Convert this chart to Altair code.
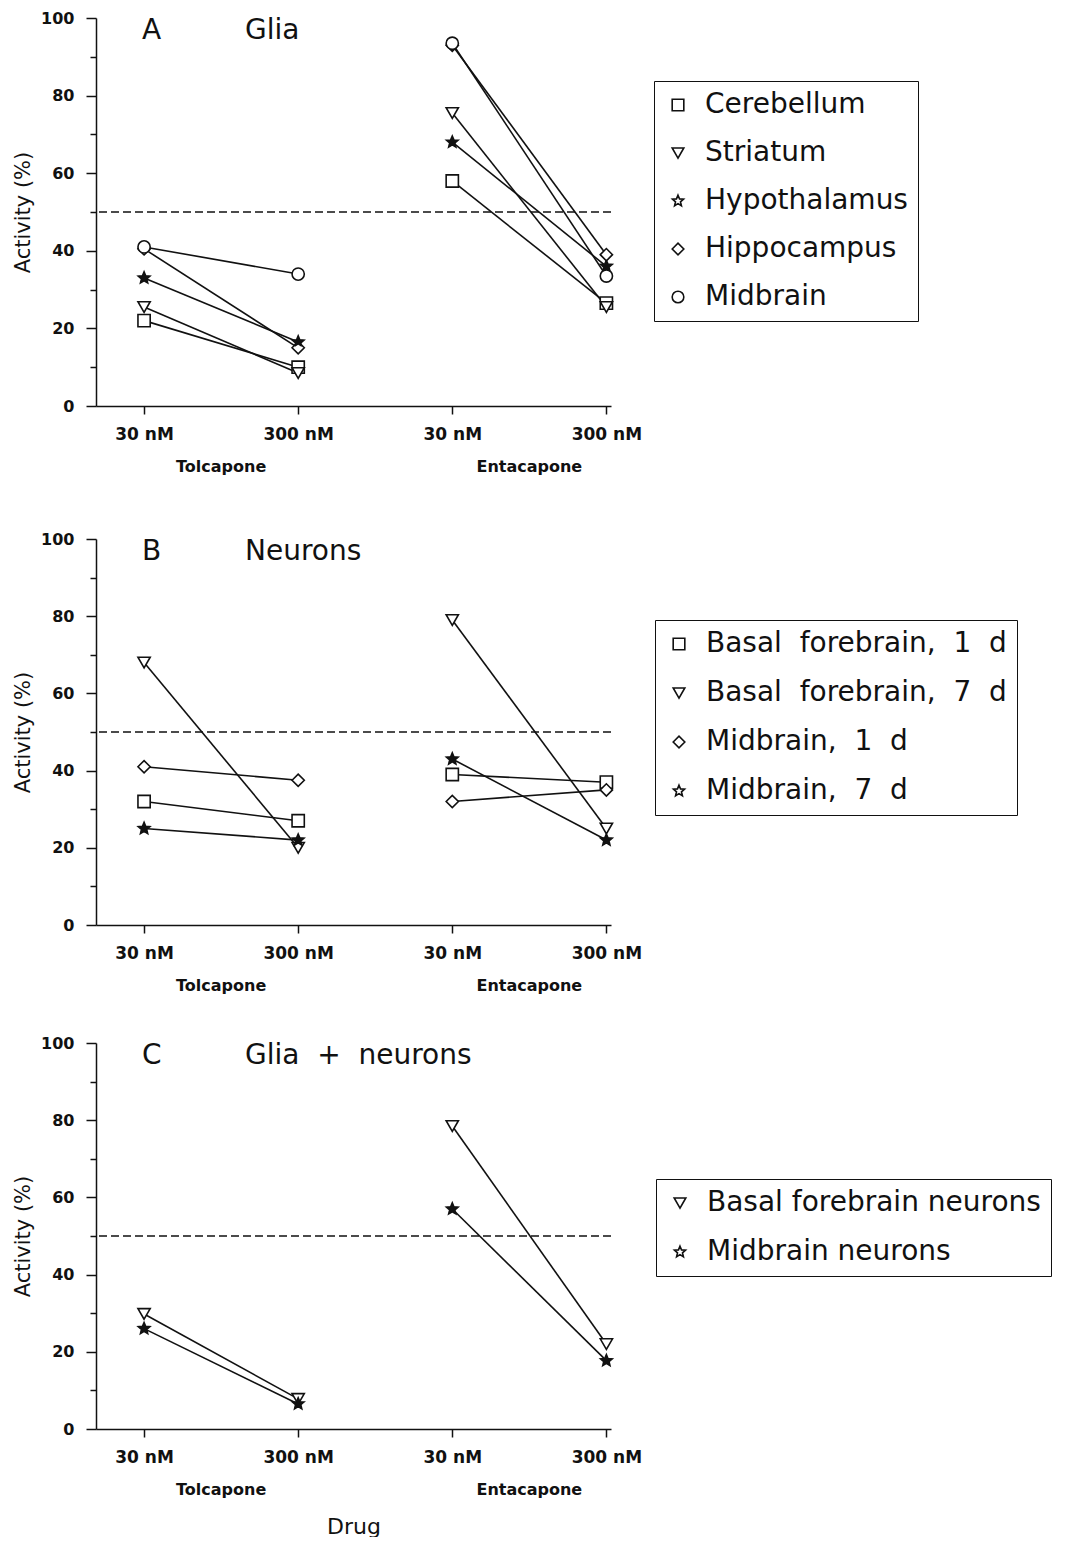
import math
import altair as alt
import pandas as pd

NB = "\u00a0"

# ---------------- data ----------------
drugs = ["Tolcapone", "Entacapone"]
doses = ["30 nM", "300 nM"]
# value order in every list: Tolcapone 30 nM, Tolcapone 300 nM, Entacapone 30 nM, Entacapone 300 nM

# Panel A - Glia
glia_series = ["Cerebellum", "Striatum", "Hypothalamus", "Hippocampus", "Midbrain"]
glia_cerebellum = [22.0, 10.0, 58.0, 26.5]
glia_striatum = [25.5, 8.5, 75.5, 25.5]
glia_hypothalamus = [33.0, 16.5, 68.0, 36.0]
glia_hippocampus = [40.5, 15.0, 93.0, 39.0]
glia_midbrain = [41.0, 34.0, 93.5, 33.5]

# Panel B - Neurons
neuron_series = ["Basal" + NB + " forebrain," + NB + " 1" + NB + " d",
                 "Basal" + NB + " forebrain," + NB + " 7" + NB + " d",
                 "Midbrain," + NB + " 1" + NB + " d",
                 "Midbrain," + NB + " 7" + NB + " d"]
neu_bf1 = [32.0, 27.0, 39.0, 37.0]
neu_bf7 = [68.0, 20.0, 79.0, 25.0]
neu_mb1 = [41.0, 37.5, 32.0, 35.0]
neu_mb7 = [25.0, 22.0, 43.0, 22.0]

# Panel C - Glia + neurons
mixed_series = ["Basal forebrain neurons", "Midbrain neurons"]
mix_bf = [29.8, 7.8, 78.5, 22.0]
mix_mb = [26.0, 6.5, 57.0, 17.7]

threshold = [50]

panel_letters = ["A", "B", "C"]
panel_names = ["Glia", "Neurons", "Glia" + NB + " +" + NB + " neurons"]

# ---------------- styling helpers ----------------
INK = "#111111"
FONT = "DejaVu Sans"


def star_path(r_out=1.0, r_in=0.45):
    pts = []
    for k in range(10):
        ang = math.radians(-90 + 36 * k)
        r = r_out if k % 2 == 0 else r_in
        pts.append(f"{r * math.cos(ang):.3f},{r * math.sin(ang):.3f}")
    return "M" + "L".join(pts) + "Z"


STAR = star_path()


def panel_frame(series_names, series_values):
    rows = []
    for name, vals in zip(series_names, series_values):
        for i, v in enumerate(vals):
            d, s = divmod(i, 2)
            rows.append({"series": name, "drug": drugs[d], "dose": doses[s],
                         "pos": d * 2 + s + 1, "value": v})
    return pd.DataFrame(rows)


group_df = pd.DataFrame({"drug": drugs, "pos": [d * 2 + 1.5 for d in range(len(drugs))]})
thr_df = pd.DataFrame({"value": threshold})

X_LABELS = f"datum.value % 2 === 1 ? '{doses[0]}' : '{doses[1]}'"


def panel(idx, df, series_names, shapes, star_series, height, lx, ly, rowpad, xtitle):
    x_axis = alt.Axis(values=[1, 2, 3, 4], labelExpr=X_LABELS, tickSize=8,
                      labelPadding=12, labelFlush=False, labelOverlap=False,
                      labelFontSize=17, title=xtitle, titleFontSize=22,
                      titleFontWeight="normal", titlePadding=51, grid=False)
    x = alt.X("pos:Q", scale=alt.Scale(domain=[0.688, 4.03], nice=False, zero=False),
              axis=x_axis)
    y_axis = alt.Axis(values=list(range(0, 101, 10)),
                      labelExpr="datum.value % 20 === 0 ? datum.label : ''",
                      tickSize={"condition": {"test": "datum.value % 20 === 0", "value": 10},
                                "value": 6},
                      labelPadding=12, labelFontSize=16, title="Activity (%)",
                      titleFontSize=21, titleFontWeight="normal", titlePadding=7,
                      grid=False)
    y = alt.Y("value:Q", scale=alt.Scale(domain=[0, 100], nice=False), axis=y_axis)

    leg = alt.Legend(title=None, orient="none", legendX=lx, legendY=ly, rowPadding=rowpad)

    rule = alt.Chart(thr_df).mark_rule(color=INK, strokeDash=[8, 4], strokeWidth=1.3).encode(y=y)
    lines = alt.Chart(df).mark_line(color=INK, strokeWidth=1.6).encode(
        x=x, y=y, detail=["series:N", "drug:N"])
    points = alt.Chart(df).mark_point(filled=False, fill="white", size=150,
                                      strokeWidth=1.6, opacity=1).encode(
        x=x, y=y,
        shape=alt.Shape("series:N", scale=alt.Scale(domain=series_names, range=shapes), legend=leg),
        stroke=alt.Stroke("series:N",
                          scale=alt.Scale(domain=series_names, range=[INK] * len(series_names)),
                          legend=leg),
    )
    stars = alt.Chart(df).transform_filter(
        alt.datum.series == star_series
    ).mark_point(filled=True, color=INK, size=150, shape=STAR, opacity=1).encode(x=x, y=y)
    glabels = alt.Chart(group_df).mark_text(font=FONT, fontSize=16, fontWeight="bold",
                                            color=INK, baseline="middle").encode(
        x=x, y=alt.value(height + 61), text="drug:N")
    tdf = pd.DataFrame({"letter": [panel_letters[idx]], "name": [panel_names[idx]]})
    t_letter = alt.Chart(tdf).mark_text(font=FONT, fontSize=28, color=INK, align="left",
                                        baseline="middle").encode(
        x=alt.value(46), y=alt.value(13), text="letter:N")
    t_name = alt.Chart(tdf).mark_text(font=FONT, fontSize=28, color=INK, align="left",
                                      baseline="middle").encode(
        x=alt.value(149), y=alt.value(13), text="name:N")

    return alt.layer(rule, lines, points, stars, glabels, t_letter, t_name).properties(
        width=515, height=height)


dfA = panel_frame(glia_series, [glia_cerebellum, glia_striatum, glia_hypothalamus,
                                glia_hippocampus, glia_midbrain])
dfB = panel_frame(neuron_series, [neu_bf1, neu_bf7, neu_mb1, neu_mb7])
dfC = panel_frame(mixed_series, [mix_bf, mix_mb])

pA = panel(0, dfA, glia_series,
           ["square", "triangle-down", STAR, "diamond", "circle"],
           glia_series[2], 388, 558, 63, 20, None)
pB = panel(1, dfB, neuron_series,
           ["square", "triangle-down", "diamond", STAR],
           neuron_series[3], 386, 559, 81, 21, None)
pC = panel(2, dfC, mixed_series,
           ["triangle-down", STAR],
           mixed_series[1], 386, 560, 136, 21, "Drug")

indep = dict(x="independent", y="independent", shape="independent", stroke="independent")

upper = alt.vconcat(pA, pB, spacing=56).resolve_scale(**indep).resolve_legend(
    shape="independent", stroke="independent")
chart = alt.vconcat(upper, pC, spacing=41).resolve_scale(**indep).resolve_legend(
    shape="independent", stroke="independent").properties(
    padding={"left": 4, "top": 2, "right": 0, "bottom": 0},
    background="white",
).configure(font=FONT).configure_view(strokeWidth=0).configure_axis(
    labelFont=FONT, labelFontWeight="bold", labelColor=INK, titleFont=FONT, titleColor=INK,
    domainColor=INK, tickColor=INK, domainWidth=1.5, tickWidth=1.5,
).configure_legend(
    padding=10, strokeColor=INK, fillColor="white", cornerRadius=0,
    labelFont=FONT, labelFontSize=28, labelColor=INK, labelLimit=1000,
    labelOffset=13, symbolSize=135, symbolStrokeColor=INK, symbolFillColor="white",
    symbolStrokeWidth=1.6, symbolOffset=0,
)

chart.save("out.html", embed_options={"renderer": "svg", "actions": False})
